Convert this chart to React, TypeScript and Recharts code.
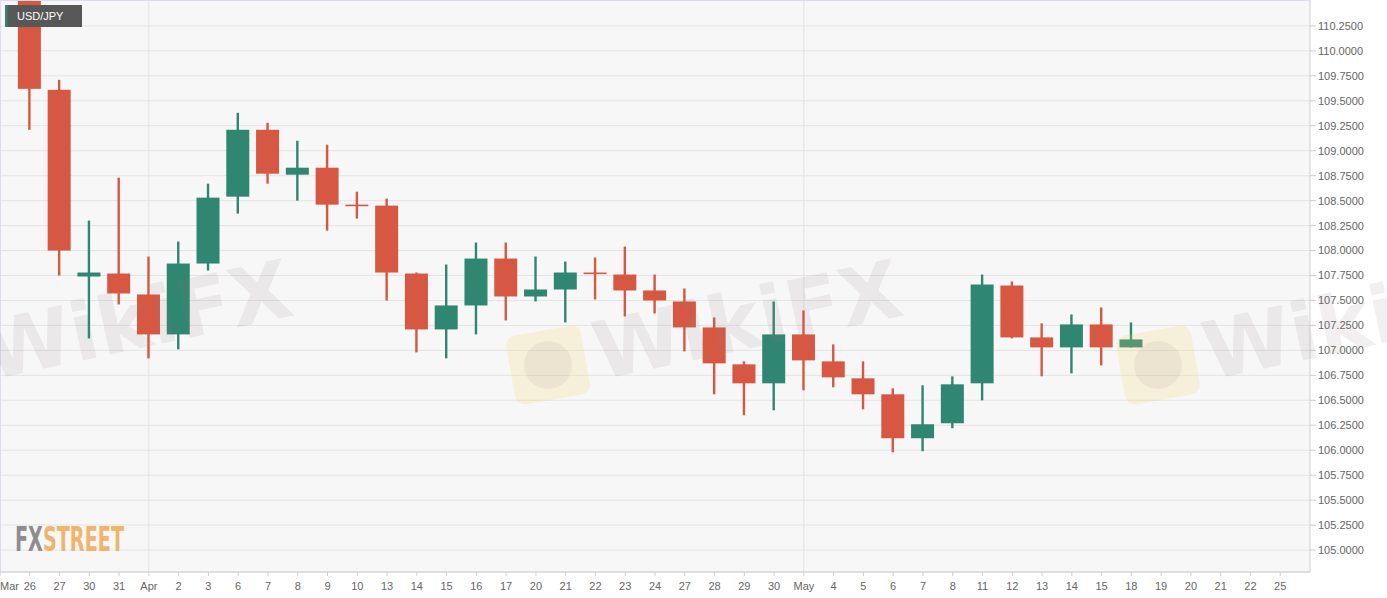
import React from 'react'
import { ComposedChart, Bar, XAxis, YAxis, CartesianGrid } from 'recharts'

// daily USD/JPY candles, Mar 26 - May 18
const leadMonth = 'Mar'
const dateLabels = [
  '26', '27', '30', '31', 'Apr', '2', '3', '6', '7', '8', '9', '10', '13', '14', '15', '16', '17',
  '20', '21', '22', '23', '24', '27', '28', '29', '30', 'May', '4', '5', '6', '7', '8', '11', '12',
  '13', '14', '15', '18', '19', '20', '21', '22', '25',
]
const opens = [
  110.8, 109.61, 107.74, 107.77, 107.56, 107.16, 107.87, 108.54, 109.21, 108.76, 108.83, 108.46, 108.45,
  107.77, 107.21, 107.45, 107.92, 107.54, 107.61, 107.78, 107.76, 107.6, 107.49, 107.23, 106.86, 106.67,
  107.16, 106.89, 106.72, 106.56, 106.12, 106.27, 106.67, 107.65, 107.13, 107.03, 107.26, 107.03,
]
const highs = [
  110.95, 109.71, 108.3, 108.73, 107.94, 108.09, 108.67, 109.38, 109.28, 109.1, 109.06, 108.59, 108.52,
  107.78, 107.86, 108.08, 108.08, 107.94, 107.89, 107.93, 108.04, 107.76, 107.62, 107.33, 106.89, 107.49,
  107.4, 107.06, 106.89, 106.62, 106.65, 106.74, 107.76, 107.69, 107.27, 107.36, 107.43, 107.28,
]
const lows = [
  109.21, 107.75, 107.12, 107.46, 106.92, 107.01, 107.8, 108.37, 108.67, 108.5, 108.2, 108.32, 107.5,
  106.98, 106.92, 107.16, 107.3, 107.49, 107.28, 107.51, 107.34, 107.37, 106.99, 106.56, 106.35, 106.4,
  106.6, 106.63, 106.41, 105.98, 105.99, 106.22, 106.5, 107.12, 106.74, 106.77, 106.85, 107.03,
]
const closes = [
  109.62, 108.0, 107.78, 107.57, 107.16, 107.87, 108.53, 109.21, 108.77, 108.83, 108.46, 108.45, 107.78,
  107.21, 107.45, 107.92, 107.54, 107.61, 107.78, 107.77, 107.6, 107.5, 107.23, 106.87, 106.67, 107.16,
  106.9, 106.73, 106.56, 106.12, 106.26, 106.66, 107.66, 107.13, 107.03, 107.26, 107.03, 107.11,
]
const priceTicks = [
  105, 105.25, 105.5, 105.75, 106, 106.25, 106.5, 106.75, 107, 107.25, 107.5, 107.75, 108, 108.25,
  108.5, 108.75, 109, 109.25, 109.5, 109.75, 110, 110.25,
]
const monthStarts = [4, 26]

const UP = '#2f8671'
const DOWN = '#d75842'
const FONT = 'Liberation Sans, Arial, sans-serif'

const data = opens.map((open, i) => ({
  i,
  open,
  close: closes[i],
  range: [lows[i], highs[i]],
}))

function Candle(props: any) {
  const { x, y, width, height, payload } = props
  const [lo, hi] = payload.range
  const top = Math.min(y, y + height)
  const h = Math.abs(height)
  const per = h / (hi - lo)
  const yOf = (v: number) => top + (hi - v) * per
  const color = payload.close >= payload.open ? UP : DOWN
  const bTop = yOf(Math.max(payload.open, payload.close))
  const bBot = yOf(Math.min(payload.open, payload.close))
  const cx = x + width / 2
  return (
    <g>
      <rect x={cx - 1.2} y={top} width={2.4} height={h} fill={color} />
      <rect x={x} y={bTop} width={width} height={Math.max(bBot - bTop, 1.6)} fill={color} />
    </g>
  )
}

function DateTick(props: any) {
  const { x, y, payload } = props
  const first = payload.value < 0
  return (
    <text
      x={first ? 0 : x}
      y={y}
      dy="0.71em"
      textAnchor={first ? 'start' : 'middle'}
      fill="#666"
      fontSize={11}
      fontFamily={FONT}
    >
      {first ? leadMonth : dateLabels[payload.value]}
    </text>
  )
}

function Watermark({ x, y }: { x: number; y: number }) {
  return (
    <g transform={`translate(${x},${y})`}>
      <rect x={0} y={40} width={76} height={70} rx={10} fill="rgba(246,214,110,0.2)" transform="rotate(-10 38 75)" />
      <circle cx={38} cy={75} r={24} fill="rgba(150,130,130,0.1)" />
      <text
        x={90}
        y={90}
        fontSize={80}
        fontWeight={700}
        fontFamily="DejaVu Sans, sans-serif"
        fill="rgba(140,120,120,0.12)"
        transform="rotate(-12 90 90)"
      >
        WikiFX
      </text>
    </g>
  )
}

export default function App() {
  const xTicks = [-1, ...dateLabels.map((_, i) => i)]
  return (
    <div style={{ position: 'absolute', left: 0, top: 0, width: 1387, height: 598, background: '#fff' }}>
      <ComposedChart width={1387} height={598} data={data} margin={{ top: 0, right: 0, bottom: 0, left: 0 }}>
        <CartesianGrid
          stroke="#e3e3e3"
          fill="#f7f7f7"
          verticalValues={monthStarts}
        />
        <XAxis
          type="number"
          dataKey="i"
          domain={[-1, 43]}
          ticks={xTicks}
          interval={0}
          allowDataOverflow
          height={26}
          tickSize={4}
          tickMargin={6}
          stroke="#cfcfcf"
          tick={<DateTick />}
        />
        <YAxis
          orientation="right"
          type="number"
          domain={[104.78, 110.51]}
          ticks={priceTicks}
          allowDataOverflow
          width={77}
          tickSize={6}
          tickMargin={2}
          stroke="#cfcfcf"
          tick={{ fill: '#666', fontSize: 11, fontFamily: FONT }}
          tickFormatter={(v: number) => v.toFixed(4)}
        />
        <Bar dataKey="range" barSize={23} shape={<Candle />} isAnimationActive={false} />
      </ComposedChart>
      <svg
        width={1387}
        height={598}
        style={{ position: 'absolute', left: 0, top: 0, pointerEvents: 'none' }}
      >
        <line x1={0} y1={0.5} x2={1310} y2={0.5} stroke="#dcdcee" />
        <line x1={0.5} y1={0} x2={0.5} y2={572} stroke="#dcdcee" />
        <Watermark x={-100} y={-345} />
        <Watermark x={510} y={-345} />
        <Watermark x={1120} y={-345} />
        <Watermark x={-100} y={290} />
        <Watermark x={510} y={290} />
        <Watermark x={1120} y={290} />
        <rect x={5} y={5} width={77} height={22} fill="#575757" />
        <rect x={5} y={5} width={2.5} height={22} fill={UP} />
        <text x={17} y={20} fontSize={11} fill="#fff" fontFamily={FONT}>
          USD/JPY
        </text>
        <text
          x={15}
          y={551}
          fontSize={33}
          fontWeight={700}
          fontFamily="Liberation Sans Narrow, DejaVu Sans Condensed, sans-serif"
          textLength={109}
          lengthAdjust="spacingAndGlyphs"
        >
          <tspan fill="#8d8d8f">FX</tspan>
          <tspan fill="#f1b46c">STREET</tspan>
        </text>
      </svg>
    </div>
  )
}
